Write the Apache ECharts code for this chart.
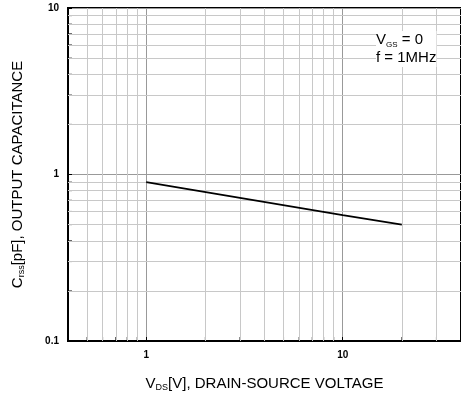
<!DOCTYPE html>
<html>
<head>
<meta charset="utf-8">
<script src="https://cdn.jsdelivr.net/npm/echarts@6/dist/echarts.min.js"></script>
<style>
  html, body { margin: 0; padding: 0; background: #fff; }
  #main { width: 461px; height: 401px; }
</style>
</head>
<body>
<div id="main"></div>
<script>
// Crss vs VDS
var vds = [1, 10, 20];
var crss = [0.9, 0.57, 0.5];

// minor grid positions (log decades)
var xMinor = [0.5, 0.6, 0.7, 0.8, 0.9, 2, 3, 4, 5, 6, 7, 8, 9, 20, 30];
var yMinor = [0.2, 0.3, 0.4, 0.5, 0.6, 0.7, 0.8, 0.9, 2, 3, 4, 5, 6, 7, 8, 9];

var xRange = [0.4, 40];
var yRange = [0.1, 10];

var font = 'Liberation Sans, Arial, sans-serif';

var chart = echarts.init(document.getElementById('main'));

var linePts = [];
for (var i = 0; i < vds.length; i++) {
    linePts.push([vds[i], crss[i]]);
}

var gridX = xMinor.map(function(v) { return { xAxis: v }; });
var gridY = yMinor.map(function(v) { return { yAxis: v }; });

var tickX = xMinor.map(function(v) { return [v, yRange[0]]; });
var tickY = yMinor.map(function(v) { return [xRange[0], v]; });

var titleRich = {
    a: { fontFamily: font, fontSize: 15, color: '#000' },
    s: { fontFamily: font, fontSize: 9, color: '#000', verticalAlign: 'bottom', padding: [8, 0, 0, 0] }
};

var option = {
    animation: false,
    backgroundColor: '#fff',
    grid: {
        left: 68, right: 0, top: 8, bottom: 60,
        containLabel: false,
        outerBoundsMode: 'none',
        show: true, borderColor: '#000', borderWidth: 2
    },
    xAxis: {
        type: 'log',
        logBase: 10,
        min: xRange[0],
        max: xRange[1],
        name: '{a|V}{s|DS}{a|[V], DRAIN-SOURCE VOLTAGE}',
        nameLocation: 'middle',
        nameGap: 34,
        nameTextStyle: { rich: titleRich },
        axisLine: { lineStyle: { color: '#000', width: 2 } },
        axisTick: { inside: true, length: 4, lineStyle: { color: '#000' } },
        axisLabel: {
            showMinLabel: false, showMaxLabel: false,
            color: '#000', fontFamily: font, fontWeight: 'bold', fontSize: 10, margin: 9
        },
        splitLine: { show: true, lineStyle: { color: '#999', width: 1 } }
    },
    yAxis: {
        type: 'log',
        logBase: 10,
        min: yRange[0],
        max: yRange[1],
        name: '{a|C}{s|rss}{a|[pF], OUTPUT CAPACITANCE}',
        nameLocation: 'middle',
        nameGap: 42,
        nameRotate: 90,
        nameTextStyle: { rich: titleRich },
        axisLine: { lineStyle: { color: '#000', width: 2 } },
        axisTick: { inside: true, length: 4, lineStyle: { color: '#000' } },
        axisLabel: {
            color: '#000', fontFamily: font, fontWeight: 'bold', fontSize: 10, margin: 9
        },
        splitLine: { show: true, lineStyle: { color: '#999', width: 1 } }
    },
    series: [
        {
            // minor gridlines
            type: 'line',
            data: [],
            silent: true,
            markLine: {
                silent: true,
                symbol: 'none',
                label: { show: false },
                lineStyle: { color: '#c8c8c8', width: 1, type: 'solid' },
                data: gridX.concat(gridY)
            }
        },
        {
            type: 'scatter',
            data: tickX,
            clip: false,
            silent: true,
            symbol: 'rect',
            symbolSize: [1, 4],
            symbolOffset: [0, -2],
            itemStyle: { color: '#000' }
        },
        {
            type: 'scatter',
            data: tickY,
            clip: false,
            silent: true,
            symbol: 'rect',
            symbolSize: [4, 1],
            symbolOffset: [2, 0],
            itemStyle: { color: '#000' }
        },
        {
            type: 'line',
            data: linePts,
            showSymbol: false,
            lineStyle: { color: '#000', width: 1.6 },
            z: 5
        }
    ],
    graphic: [
        {
            type: 'text',
            left: 376,
            top: 31,
            z: 10,
            style: {
                text: '{a|V}{s|GS}{a| = 0}\n{a|f = 1MHz}',
                backgroundColor: '#fff',
                rich: {
                    a: { fontFamily: font, fontSize: 15, fill: '#000', lineHeight: 18 },
                    s: { fontFamily: font, fontSize: 8, fill: '#000', lineHeight: 18, verticalAlign: 'bottom', padding: [6, 0, 0, 0] }
                }
            }
        }
    ]
};

chart.setOption(option);
</script>
</body>
</html>
